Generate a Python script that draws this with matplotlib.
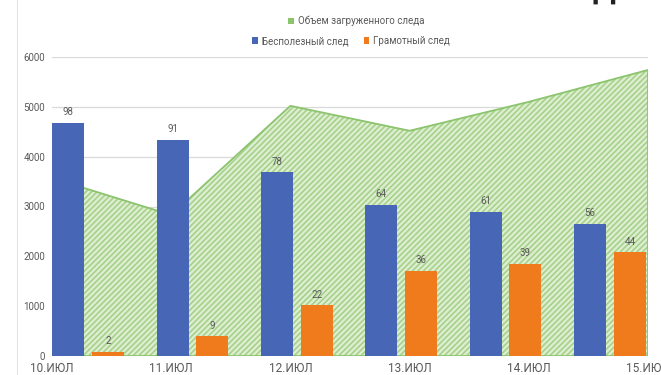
import numpy as np
import matplotlib
matplotlib.use("Agg")
import matplotlib.pyplot as plt
from matplotlib.patches import Patch
from matplotlib.lines import Line2D

plt.rcParams['font.family'] = ['Roboto', 'DejaVu Sans']
plt.rcParams['hatch.linewidth'] = 1.1

# data
days = ['10.ИЮЛ', '11.ИЮЛ', '12.ИЮЛ', '13.ИЮЛ', '14.ИЮЛ', '15.ИЮЛ']
volume = [3570, 2830, 5020, 4520, 5100, 5740]          # Объем загруженного следа
useless = [4680, 4340, 3690, 3030, 2890, 2650]         # Бесполезный след
useless_lbl = [98, 91, 78, 64, 61, 56]
good = [85, 400, 1020, 1710, 1850, 2080]               # Грамотный след
good_lbl = [2, 9, 22, 36, 39, 44]

grey = '#595959'
blue = '#4767B6'
orange = '#EF7B1C'
green_edge = '#8CC46E'

fig = plt.figure(figsize=(6.61, 3.75), dpi=100)
ax = fig.add_axes([52/661, 19/375, 596/661, 299/375])

x = np.arange(len(days))

# area, hatched like the excel pattern fill
ax.fill_between(x, volume, 0, facecolor='#DCEDD0', hatch='//////',
                edgecolor='#A3D086', linewidth=0, zorder=2)
ax.fill_between(x, volume, 0, facecolor='none', edgecolor=green_edge,
                linewidth=1.3, zorder=3)

ax.set_xlim(0, 5.0)
ax.set_ylim(0, 6000)
ax.set_yticks(np.arange(0, 6001, 1000))
ax.yaxis.grid(True, color='#D9D9D9', linewidth=0.9)
ax.set_axisbelow(True)
ax.set_xticks(x)
ax.set_xticklabels(days)
ax.tick_params(axis='both', length=0, colors=grey)
ax.tick_params(axis='y', labelsize=7, pad=5)
ax.tick_params(axis='x', labelsize=8.5, pad=4)
for lab in ax.get_xticklabels():
    lab.set_clip_on(False)
for s in ax.spines.values():
    s.set_visible(False)

# bars sit on their own category scale
ax2 = ax.twiny()
ax2.set_xlim(-0.345, 5.364)
ax2.set_ylim(0, 6000)
w = 0.306
b1 = ax2.bar(x - 0.19, useless, width=w, color=blue, zorder=4)
b2 = ax2.bar(x + 0.19, good, width=w, color=orange, zorder=4)
ax2.bar_label(b1, labels=[str(v) for v in useless_lbl], padding=4, fontsize=7, color=grey)
ax2.bar_label(b2, labels=[str(v) for v in good_lbl], padding=4, fontsize=7, color=grey)
ax2.set_xticks([])
for s in ax2.spines.values():
    s.set_visible(False)

# legends
sq = dict(handlelength=0.6, handleheight=0.6, handletextpad=0.4, frameon=False,
          fontsize=7, labelcolor=grey, borderaxespad=0, borderpad=0)
fig.legend(handles=[Patch(facecolor='#8CC46E', label='Объем загруженного следа')],
           loc='center', bbox_to_anchor=(356/661, 1 - 21/375), **sq)
fig.legend(handles=[Patch(facecolor=blue, label='Бесполезный след'),
                    Patch(facecolor=orange, label='Грамотный след')],
           loc='center', bbox_to_anchor=(351/661, 1 - 41/375), ncol=2,
           columnspacing=1.6, **sq)

# faint frame line on the left and the cut-off heading letter
fig.add_artist(Line2D([17/661, 17/661], [0, 1], color='#E3E3E3', linewidth=0.8))
fig.text(604/661, 1 - 5/375, 'Д', fontsize=22, fontweight='bold', color='#222222',
         ha='center', va='bottom')

fig.savefig('out.png', dpi=100)
